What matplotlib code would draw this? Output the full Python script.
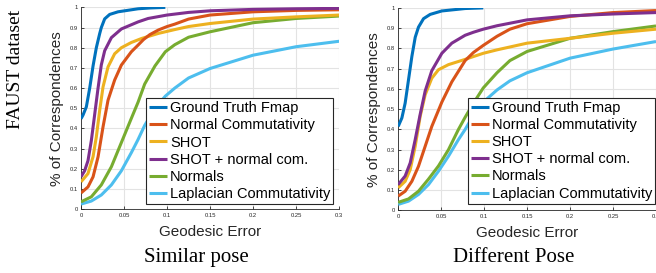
import matplotlib
matplotlib.use("Agg")
import matplotlib.pyplot as plt

# legend labels and MATLAB default colours
labels = ["Ground Truth Fmap", "Normal Commutativity", "SHOT",
          "SHOT + normal com.", "Normals", "Laplacian Commutativity"]
colors = ["#0072BD", "#D95319", "#EDB120", "#7E2F8E", "#77AC30", "#4DBEEE"]

# ---- similar pose (left) ----
sim_gt_x = [0, 0.0023, 0.0062, 0.0101, 0.014, 0.0178, 0.0217, 0.0236, 0.0275, 0.0333,
            0.043, 0.0663, 0.08, 0.098]
sim_gt_y = [0.448, 0.466, 0.507, 0.60, 0.71, 0.80, 0.87, 0.90, 0.943, 0.965,
            0.978, 0.993, 0.997, 1.0]

sim_nc_x = [0, 0.0081, 0.014, 0.0198, 0.0256, 0.0314, 0.0391, 0.0469, 0.0585, 0.0663,
            0.0725, 0.08, 0.09, 0.1, 0.109, 0.125, 0.15, 0.2, 0.25, 0.3]
sim_nc_y = [0.08, 0.11, 0.16, 0.259, 0.408, 0.54, 0.64, 0.714, 0.78, 0.813,
            0.84, 0.865, 0.888, 0.905, 0.917, 0.942, 0.962, 0.978, 0.985, 0.988]

sim_shot_x = [0, 0.0081, 0.014, 0.0178, 0.0217, 0.0256, 0.0314, 0.0391, 0.0469, 0.0585,
              0.0705, 0.09, 0.109, 0.125, 0.15, 0.2, 0.25, 0.3]
sim_shot_y = [0.135, 0.176, 0.26, 0.358, 0.49, 0.606, 0.705, 0.77, 0.80, 0.826,
              0.846, 0.871, 0.89, 0.905, 0.92, 0.942, 0.953, 0.962]

sim_shotnc_x = [0, 0.0042, 0.0081, 0.012, 0.0159, 0.0198, 0.0236, 0.0275, 0.0353, 0.0469,
                0.0663, 0.078, 0.1, 0.125, 0.15, 0.2, 0.25, 0.3]
sim_shotnc_y = [0.16, 0.19, 0.24, 0.34, 0.47, 0.60, 0.715, 0.785, 0.85, 0.893,
                0.928, 0.945, 0.962, 0.975, 0.983, 0.99, 0.993, 0.995]

sim_norm_x = [0, 0.012, 0.0236, 0.0353, 0.0469, 0.0585, 0.0663, 0.074, 0.086, 0.098,
              0.109, 0.125, 0.15, 0.2, 0.25, 0.3]
sim_norm_y = [0.036, 0.061, 0.12, 0.21, 0.33, 0.45, 0.53, 0.62, 0.71, 0.78,
              0.815, 0.852, 0.879, 0.924, 0.945, 0.957]

sim_lap_x = [0, 0.012, 0.0236, 0.0353, 0.0469, 0.0585, 0.0663, 0.074, 0.086, 0.098,
             0.109, 0.125, 0.15, 0.2, 0.25, 0.3]
sim_lap_y = [0.025, 0.04, 0.07, 0.12, 0.19, 0.28, 0.345, 0.415, 0.50, 0.56,
             0.60, 0.65, 0.697, 0.763, 0.805, 0.832]

# ---- different pose (right) ----
dif_gt_x = [0, 0.0043, 0.0081, 0.012, 0.0159, 0.0198, 0.0236, 0.0295, 0.0372, 0.0508,
            0.0779, 0.099]
dif_gt_y = [0.415, 0.457, 0.53, 0.645, 0.76, 0.855, 0.905, 0.947, 0.968, 0.985,
            0.997, 1.0]

dif_nc_x = [0, 0.0081, 0.0159, 0.0236, 0.0314, 0.0391, 0.0508, 0.0624, 0.0779, 0.0876,
            0.099, 0.115, 0.13, 0.15, 0.2, 0.25, 0.3]
dif_nc_y = [0.071, 0.095, 0.144, 0.218, 0.317, 0.415, 0.535, 0.635, 0.74, 0.78,
            0.815, 0.86, 0.895, 0.922, 0.958, 0.977, 0.987]

dif_shot_x = [0, 0.0081, 0.014, 0.0198, 0.0256, 0.0314, 0.0391, 0.0469, 0.0585, 0.0779,
              0.0876, 0.099, 0.115, 0.15, 0.2, 0.25, 0.3]
dif_shot_y = [0.112, 0.144, 0.202, 0.317, 0.465, 0.571, 0.653, 0.695, 0.72, 0.746,
              0.76, 0.776, 0.793, 0.826, 0.85, 0.875, 0.895]

dif_shotnc_x = [0, 0.0081, 0.014, 0.0198, 0.0256, 0.0314, 0.0391, 0.0508, 0.0624, 0.0779,
                0.0876, 0.099, 0.115, 0.15, 0.2, 0.25, 0.3]
dif_shotnc_y = [0.128, 0.17, 0.235, 0.35, 0.475, 0.59, 0.69, 0.776, 0.826, 0.865,
                0.88, 0.895, 0.912, 0.941, 0.961, 0.97, 0.977]

dif_norm_x = [0, 0.012, 0.0236, 0.0353, 0.0469, 0.0585, 0.0701, 0.0779, 0.0876, 0.099,
              0.115, 0.13, 0.15, 0.2, 0.25, 0.3]
dif_norm_y = [0.04, 0.057, 0.095, 0.155, 0.22, 0.30, 0.40, 0.46, 0.53, 0.605,
              0.68, 0.74, 0.785, 0.85, 0.883, 0.911]

dif_lap_x = [0, 0.012, 0.0236, 0.0353, 0.0469, 0.0585, 0.0701, 0.0779, 0.0876, 0.099,
             0.115, 0.13, 0.15, 0.2, 0.25, 0.3]
dif_lap_y = [0.03, 0.046, 0.079, 0.128, 0.194, 0.268, 0.35, 0.40, 0.47, 0.535,
             0.595, 0.64, 0.68, 0.752, 0.797, 0.834]

xticks = [0, 0.05, 0.1, 0.15, 0.2, 0.25, 0.3]
xticklabels = ["0", "0.05", "0.1", "0.15", "0.2", "0.25", "0.3"]
yticks = [0, 0.1, 0.2, 0.3, 0.4, 0.5, 0.6, 0.7, 0.8, 0.9, 1]
yticklabels = ["0", "0.1", "0.2", "0.3", "0.4", "0.5", "0.6", "0.7", "0.8", "0.9", "1"]

plt.rcParams['font.family'] = ['Liberation Sans', 'DejaVu Sans']

fig = plt.figure(figsize=(6.56, 2.73), dpi=100)
ax1 = fig.add_axes([0.1235, 0.234, 0.3935, 0.739])
ax2 = fig.add_axes([0.607, 0.229, 0.393, 0.742])

sim = [(sim_gt_x, sim_gt_y), (sim_nc_x, sim_nc_y), (sim_shot_x, sim_shot_y),
       (sim_shotnc_x, sim_shotnc_y), (sim_norm_x, sim_norm_y), (sim_lap_x, sim_lap_y)]
dif = [(dif_gt_x, dif_gt_y), (dif_nc_x, dif_nc_y), (dif_shot_x, dif_shot_y),
       (dif_shotnc_x, dif_shotnc_y), (dif_norm_x, dif_norm_y), (dif_lap_x, dif_lap_y)]

# draw order: GT on top
order = [5, 4, 2, 1, 3, 0]

for ax, data, leg_anchor in [(ax1, sim, (0.977, 0.025)), (ax2, dif, (0.996, 0.034))]:
    lines = {}
    for i in order:
        x, y = data[i]
        ln, = ax.plot(x, y, color=colors[i], lw=2.2, solid_capstyle='butt',
                      solid_joinstyle='round', label=labels[i], zorder=3)
        lines[i] = ln
    ax.set_xlim(0, 0.3)
    ax.set_ylim(0, 1)
    ax.set_xticks(xticks)
    ax.set_xticklabels(xticklabels)
    ax.set_yticks(yticks)
    ax.set_yticklabels(yticklabels)
    ax.tick_params(direction='in', length=2, width=0.6, labelsize=4.2,
                   colors='#262626', pad=2.5)
    ax.grid(True, color='#e3e3e3', lw=0.8)
    ax.set_axisbelow(True)
    for s in ['top', 'right']:
        ax.spines[s].set_visible(False)
    for s in ['left', 'bottom']:
        ax.spines[s].set_color('#262626')
        ax.spines[s].set_linewidth(0.6)
    ax.set_xlabel("Geodesic Error", fontsize=11, color='#262626', labelpad=5)
    ax.set_ylabel("% of Correspondences", fontsize=11, color='#262626', labelpad=4)
    leg = ax.legend([lines[i] for i in range(6)], labels, loc='lower right',
                    bbox_to_anchor=leg_anchor, fontsize=10.5, frameon=True,
                    fancybox=False, framealpha=1, edgecolor='#262626',
                    handlelength=1.25, handletextpad=0.2, labelspacing=0.22,
                    borderpad=0.2, borderaxespad=0)
    leg.get_frame().set_linewidth(0.8)
    leg.set_zorder(5)

fig.text(0.024, 0.745, "FAUST dataset", rotation=90, ha='center', va='center',
         fontsize=14, family='Liberation Serif')
fig.text(0.30, 0.055, "Similar pose", ha='center', va='center',
         fontsize=15, family='Liberation Serif')
fig.text(0.783, 0.055, "Different Pose", ha='center', va='center',
         fontsize=15, family='Liberation Serif')

fig.savefig("out.png", dpi=100)
